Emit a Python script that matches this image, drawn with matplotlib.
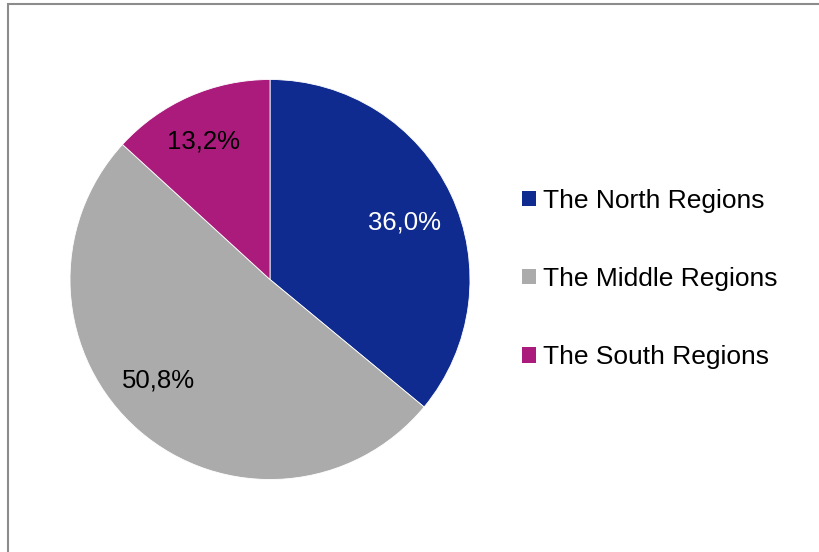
import matplotlib
matplotlib.use("Agg")
import matplotlib.pyplot as plt
from matplotlib.patches import Patch, Rectangle

plt.rcParams["font.family"] = ["Liberation Sans", "DejaVu Sans"]

regions = ["The North Regions", "The Middle Regions", "The South Regions"]
shares = [36.0, 50.8, 13.2]
colors = ["#102B8F", "#ABABAB", "#AA1B7B"]
label_colors = ["white", "black", "black"]
# small nudges (in pixels) for data labels, like Excel's best-fit placement
label_nudge_px = [(-1.5, -7), (-13, 12.5), (-6, 1)]

W, H = 819, 552
R_PX = 200
fig = plt.figure(figsize=(W / 100, H / 100), dpi=100)

# pie area: centre (270, 279.5) px, radius 200 px
ax = fig.add_axes([70 / W, (H - 479.5) / H, 2 * R_PX / W, 2 * R_PX / H])
wedges, texts, autotexts = ax.pie(
    shares, colors=colors, startangle=90, counterclock=False,
    autopct=lambda p: f"{p:.1f}%".replace(".", ","),
    pctdistance=0.75, radius=1.0,
    wedgeprops=dict(edgecolor="white", linewidth=0.6),
    textprops=dict(fontsize=18.5),
)
for t, c, (dx, dy) in zip(autotexts, label_colors, label_nudge_px):
    t.set_color(c)
    x, y = t.get_position()
    t.set_position((x + dx / R_PX, y + dy / R_PX))
ax.set_xlim(-1, 1)
ax.set_ylim(-1, 1)
ax.set_aspect("equal")
ax.axis("off")

handles = [Patch(facecolor=c, edgecolor="none") for c in colors]
fig.legend(
    handles, regions, loc="center left",
    bbox_to_anchor=(522 / W, (H - 279) / H),
    frameon=False, fontsize=19, borderpad=0, borderaxespad=0,
    handlelength=0.53, handleheight=0.53, handletextpad=0.27,
    labelspacing=2.05,
)

# chart border
fig.add_artist(Rectangle((8 / W, -0.05), 1.1, (H - 4) / H + 0.05,
                         transform=fig.transFigure, fill=False,
                         edgecolor="#8C8C8C", linewidth=1.5))

fig.savefig("out.png", dpi=100)
